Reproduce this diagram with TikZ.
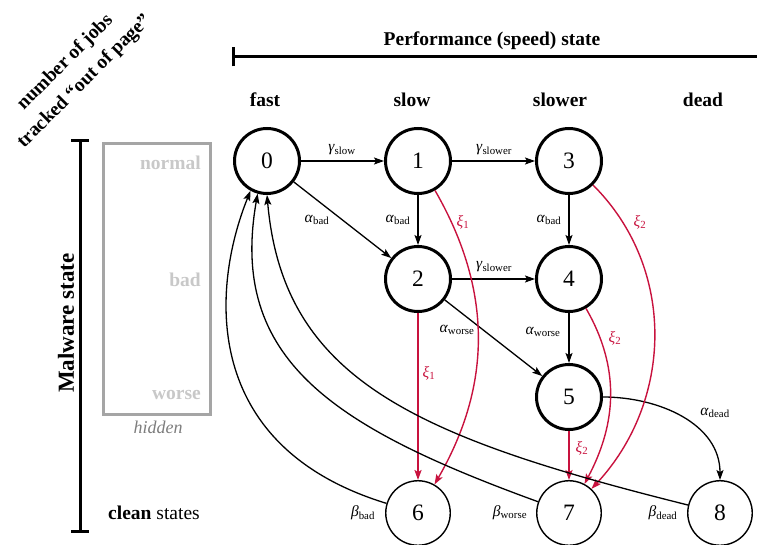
\documentclass[tikz,border=0pt]{standalone}
\usepackage{fontspec}
\setmainfont{Liberation Serif}
\usetikzlibrary{arrows.meta}

\definecolor{xired}{RGB}{200,18,62}
\definecolor{boxgray}{RGB}{165,165,165}
\definecolor{txtgray}{RGB}{200,200,200}
\definecolor{hidgray}{RGB}{125,125,125}

% rate symbol: italic Greek letter with an upright subscript
\newcommand{\ratesym}[2]{\textit{#1}\textsubscript{#2}}

\begin{document}
\begin{tikzpicture}[x=1pt,y=-1pt,
  txt/.style={inner sep=0pt},
  hdr/.style={txt, font=\fontsize{19.5}{23}\selectfont\bfseries},
  lvl/.style={txt, anchor=east, text=txtgray, font=\fontsize{19.5}{23}\selectfont\bfseries},
  state/.style={circle, draw, line width=3pt, minimum size=65pt, inner sep=0pt,
                font=\fontsize{23.5}{26}\selectfont},
  cleanstate/.style={circle, draw, line width=1.4pt, minimum size=64.5pt, inner sep=0pt,
                font=\fontsize{23.5}{26}\selectfont},
  trans/.style={line width=1.3pt, -{Stealth[length=10pt,width=7pt,inset=2pt]}},
  hit/.style={trans, draw=xired},
  rate/.style={txt, font=\fontsize{15.5}{18}\selectfont},
  hitrate/.style={rate, text=xired},
]
\useasboundingbox (0,0) rectangle (757,545);

% ---- axes -------------------------------------------------------------
\coordinate (pl) at (233,57);
\coordinate (pr) at (757,57);
\draw[line width=3pt] (pl) -- (pr);
\draw[line width=3pt] ([yshift=-9.5pt]pl) -- ([yshift=9.5pt]pl);
\node[hdr, anchor=base] (perf) at (492,46) {Performance (speed) state};

\coordinate (mt) at (80,141);
\coordinate (mb) at (80,531);
\draw[line width=3pt] (mt) -- (mb);
\draw[line width=3pt] ([xshift=-9pt]mt) -- ([xshift=9pt]mt);
\draw[line width=3pt] ([xshift=-9pt]mb) -- ([xshift=9pt]mb);
\node[txt, rotate=90, font=\fontsize{23}{26}\selectfont\bfseries] (malw) at (66,323) {Malware state};

\node[txt, rotate=45, align=center, font=\fontsize{19.5}{27}\selectfont\bfseries]
  (jobs) at (75,72) {number of jobs\\tracked ``out of page''};

% ---- column headers ---------------------------------------------------
\node[hdr, anchor=base] (hfast)   at (265,107) {fast};
\node[hdr, anchor=base] (hslow)   at (412,107) {slow};
\node[hdr, anchor=base] (hslower) at (560,107) {slower};
\node[hdr, anchor=base] (hdead)   at (703,107) {dead};

% ---- hidden malware levels ---------------------------------------------
\draw[boxgray, line width=3pt] (103,144) rectangle (210,414);
\node[lvl] (lnormal) at (201,163) {normal};
\node[lvl] (lbad)    at (201,280) {bad};
\node[lvl] (lworse)  at (201,395) {worse};
\node[txt, text=hidgray, font=\fontsize{18}{21}\selectfont\itshape] (lhidden) at (158,427) {hidden};
\node[txt, font=\fontsize{19.5}{23}\selectfont] (lclean) at (154,513) {\textbf{clean} states};

% ---- states -------------------------------------------------------------
\node[state] (n0) at (267,161) {0};
\node[state] (n1) at (418,161) {1};
\node[state] (n3) at (569,161) {3};
\node[state] (n2) at (418,279) {2};
\node[state] (n4) at (569,279) {4};
\node[state] (n5) at (569,397) {5};
\node[cleanstate] (n6) at (418,513) {6};
\node[cleanstate] (n7) at (569,513) {7};
\node[cleanstate] (n8) at (720,513) {8};

% ---- transitions --------------------------------------------------------
\draw[trans] (n0) -- (n1);
\draw[trans] (n1) -- (n3);
\draw[trans] (n0) -- (n2);
\draw[trans] (n1) -- (n2);
\draw[trans] (n3) -- (n4);
\draw[trans] (n2) -- (n4);
\draw[trans] (n2) -- (n5);
\draw[trans] (n4) -- (n5);
\draw[trans] (n5.east) to[out=0, in=90] (n8.north);

\draw[hit, line width=2pt] (n2) -- (n6);
\draw[hit, line width=1.5pt] (n5) -- (n7);
\draw[hit, line width=1.4pt] (n1.-60) to[out=-60, in=60] (n6.60);
\draw[hit, line width=1.4pt] (n3.-45) to[out=-45, in=47] (n7.47);
\draw[hit, line width=1.4pt] (n4.-60) to[out=-60, in=62] (n7.62);

% recovery back to the fast, clean state
\draw[trans] (n6.163) .. controls +(163:195pt) and +(-112:105pt) .. (n0.-119);
\draw[trans] (n7.160) .. controls +(160:217pt) and +(-100:169pt) .. (n0.-106);
\draw[trans] (n8.166) .. controls +(166:284pt) and +(-85:184pt) .. (n0.-90);

% ---- rates --------------------------------------------------------------
\node[rate] (r01) at (342,150) {\ratesym{γ}{slow}};
\node[rate] (r13) at (494,150) {\ratesym{γ}{slower}};
\node[rate] (r24) at (494,267) {\ratesym{γ}{slower}};
\node[rate] (r02) at (317,220) {\ratesym{α}{bad}};
\node[rate] (r12) at (398,220) {\ratesym{α}{bad}};
\node[rate] (r34) at (549,220) {\ratesym{α}{bad}};
\node[rate] (r25) at (457,330) {\ratesym{α}{worse}};
\node[rate] (r45) at (543,332) {\ratesym{α}{worse}};
\node[rate] (r58) at (715,413) {\ratesym{α}{dead}};

\node[hitrate] (x16) at (463,222) {\ratesym{ξ}{1}};
\node[hitrate] (x26) at (429,373) {\ratesym{ξ}{1}};
\node[hitrate] (x37) at (640,222) {\ratesym{ξ}{2}};
\node[hitrate] (x47) at (615,338) {\ratesym{ξ}{2}};
\node[hitrate] (x57) at (582,448) {\ratesym{ξ}{2}};

\node[rate] (b6) at (363,513) {\ratesym{β}{bad}};
\node[rate] (b7) at (510,513) {\ratesym{β}{worse}};
\node[rate] (b8) at (663,513) {\ratesym{β}{dead}};
\end{tikzpicture}
\end{document}
